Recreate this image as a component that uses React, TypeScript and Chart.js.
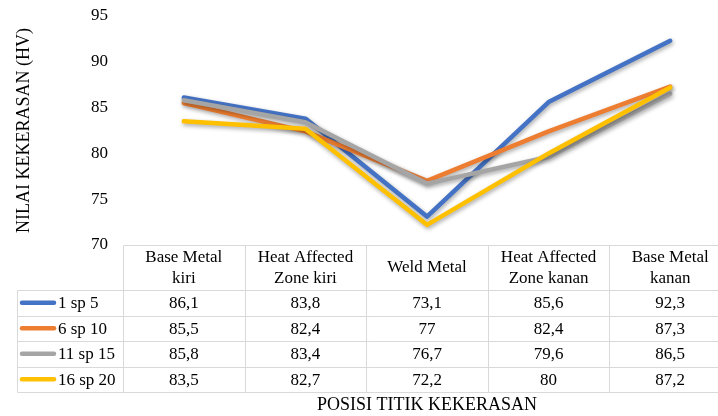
import React, { useEffect, useRef } from 'react';
import { Chart, registerables } from 'chart.js';

Chart.register(...registerables);

const categoryLines: string[][] = [
  ['Base Metal', 'kiri'],
  ['Heat Affected', 'Zone kiri'],
  ['Weld Metal'],
  ['Heat Affected', 'Zone kanan'],
  ['Base Metal', 'kanan'],
];
const categories = categoryLines.map((l) => l.join(' '));
const seriesNames = ['1 sp 5', '6 sp 10', '11 sp 15', '16 sp 20'];
const series1 = [86.1, 83.8, 73.1, 85.6, 92.3];
const series2 = [85.5, 82.4, 77, 82.4, 87.3];
const series3 = [85.8, 83.4, 76.7, 79.6, 86.5];
const series4 = [83.5, 82.7, 72.2, 80, 87.2];
const seriesValues = [series1, series2, series3, series4];
const yMin = 70;
const yMax = 95;
const yStep = 5;
const xTitle = 'POSISI TITIK KEKERASAN';
const yTitle = 'NILAI KEKERASAN (HV)';
const colors = ['#4472C4', '#ED7D31', '#A5A5A5', '#FFC000'];

const FONT = '"Liberation Serif", "Times New Roman", serif';

const fmt = (v: number) => String(v).replace('.', ',');

const shadowPlugin = {
  id: 'lineShadow',
  beforeDatasetDraw(chart: any) {
    const ctx = chart.ctx;
    ctx.save();
    ctx.shadowColor = 'rgba(0,0,0,0.35)';
    ctx.shadowBlur = 4;
    ctx.shadowOffsetX = 1;
    ctx.shadowOffsetY = 2;
  },
  afterDatasetDraw(chart: any) {
    chart.ctx.restore();
  },
};

const tablePlugin = {
  id: 'dataTable',
  afterDraw(chart: any) {
    const { ctx, chartArea } = chart;
    const x = chart.scales.x;
    const n = categories.length;
    const colW = x.getPixelForValue(1) - x.getPixelForValue(0);
    const left0 = x.getPixelForValue(0) - colW / 2;
    const right = left0 + colW * n;
    const top = chartArea.bottom;
    const headerH = 45;
    const rowH = 25.5;
    const legendLeft = 17;
    const rowsTop = top + headerH;
    const bottom = rowsTop + rowH * seriesNames.length;
    const px = (v: number) => Math.round(v) + 0.5;

    ctx.save();
    ctx.strokeStyle = '#D9D9D9';
    ctx.lineWidth = 1;
    ctx.beginPath();
    ctx.moveTo(px(left0), px(top));
    ctx.lineTo(right, px(top));
    for (let i = 0; i <= seriesNames.length; i++) {
      const yy = px(rowsTop + i * rowH);
      ctx.moveTo(px(legendLeft), yy);
      ctx.lineTo(right, yy);
    }
    ctx.moveTo(px(legendLeft), px(rowsTop));
    ctx.lineTo(px(legendLeft), px(bottom));
    for (let j = 0; j <= n; j++) {
      const xx = px(left0 + j * colW);
      ctx.moveTo(xx, px(top));
      ctx.lineTo(xx, px(bottom));
    }
    ctx.stroke();

    ctx.fillStyle = '#000';
    ctx.font = `17px ${FONT}`;
    ctx.textAlign = 'center';
    ctx.textBaseline = 'middle';
    categoryLines.forEach((lines, j) => {
      const cx = x.getPixelForValue(j);
      if (lines.length === 1) {
        ctx.fillText(lines[0], cx, top + 23);
      } else {
        ctx.fillText(lines[0], cx, top + 12.5);
        ctx.fillText(lines[1], cx, top + 33.5);
      }
    });

    seriesValues.forEach((vals, i) => {
      const cy = rowsTop + i * rowH + rowH / 2 + 1;
      vals.forEach((v, j) => {
        ctx.fillText(fmt(v), x.getPixelForValue(j), cy);
      });
      ctx.save();
      ctx.strokeStyle = colors[i];
      ctx.lineWidth = 4.5;
      ctx.lineCap = 'round';
      ctx.beginPath();
      ctx.moveTo(22, cy - 1);
      ctx.lineTo(54, cy - 1);
      ctx.stroke();
      ctx.restore();
      ctx.textAlign = 'left';
      ctx.fillText(seriesNames[i], 58, cy);
      ctx.textAlign = 'center';
    });

    ctx.font = `18px ${FONT}`;
    ctx.fillText(xTitle, (left0 + right) / 2, 405);

    ctx.save();
    ctx.translate(24, (chartArea.top + chartArea.bottom) / 2);
    ctx.rotate(-Math.PI / 2);
    ctx.fillText(yTitle, 0, 0);
    ctx.restore();
    ctx.restore();
  },
};

export default function App() {
  const ref = useRef<HTMLCanvasElement | null>(null);

  useEffect(() => {
    document.body.style.margin = '0';
    document.body.style.overflow = 'hidden';
    const canvas = ref.current;
    if (!canvas) return;
    const chart = new Chart(canvas, {
      type: 'line',
      data: {
        labels: categories,
        datasets: seriesValues.map((vals, i) => ({
          label: seriesNames[i],
          data: vals,
          borderColor: colors[i],
          backgroundColor: colors[i],
          borderWidth: 4.5,
          pointRadius: 0,
          pointHoverRadius: 0,
          tension: 0,
          borderCapStyle: 'round' as const,
          borderJoinStyle: 'round' as const,
          order: seriesNames.length - i,
        })),
      },
      options: {
        responsive: false,
        animation: false,
        devicePixelRatio: 1,
        layout: { padding: { top: 16, bottom: 171, left: 0, right: 0 } },
        plugins: {
          legend: { display: false },
          tooltip: { enabled: false },
        },
        scales: {
          x: {
            type: 'category',
            display: false,
            offset: true,
          },
          y: {
            min: yMin,
            max: yMax,
            border: { display: false },
            grid: { display: false, drawTicks: false },
            ticks: {
              stepSize: yStep,
              padding: 15,
              color: '#000',
              font: { family: FONT, size: 17 },
            },
            afterFit(scale: any) {
              scale.width = 123;
              scale.paddingTop = 0;
              scale.paddingBottom = 0;
            },
          },
        },
      },
      plugins: [shadowPlugin, tablePlugin],
    });
    return () => chart.destroy();
  }, []);

  return (
    <div style={{ width: 718, height: 416, overflow: 'hidden', position: 'relative', background: '#fff' }}>
      <canvas ref={ref} width={731} height={416} style={{ display: 'block' }} />
    </div>
  );
}
